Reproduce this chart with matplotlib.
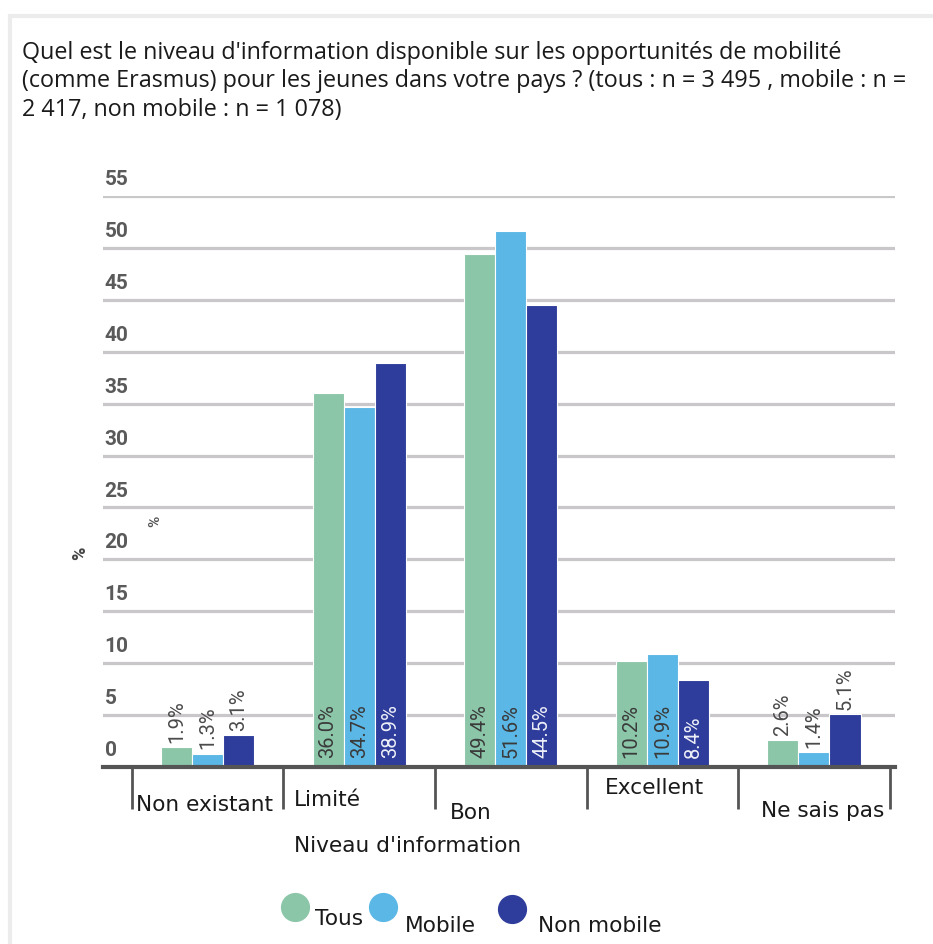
import matplotlib
matplotlib.use('Agg')
from matplotlib import pyplot as plt
from matplotlib.lines import Line2D
from matplotlib.patches import Rectangle
import matplotlib.transforms as mtransforms
import numpy as np

title = ("Quel est le niveau d'information disponible sur les opportunités de mobilité\n"
         "(comme Erasmus) pour les jeunes dans votre pays ? (tous : n = 3 495 , mobile : n =\n"
         "2 417, non mobile : n = 1 078)")
categories = ['Non existant', 'Limité', 'Bon', 'Excellent', 'Ne sais pas']
series = ['Tous', 'Mobile', 'Non mobile']
tous = [1.9, 36.0, 49.4, 10.2, 2.6]
mobile = [1.3, 34.7, 51.6, 10.9, 1.4]
non_mobile = [3.1, 38.9, 44.5, 8.4, 5.1]
yticks = [0, 5, 10, 15, 20, 25, 30, 35, 40, 45, 50, 55]
xlabel = "Niveau d'information"
ylabel = '%'

colors = ['#8cc6a9', '#5bb7e5', '#2e3c9b']
text_colors = ['#3a3a3a', '#3a3a3a', '#eef0f8']
grey = '#555555'
lab_font = ['DejaVu Sans']
lab_size = 15.6

fig = plt.figure(figsize=(9.33, 9.44), dpi=100)

# light frame around the chart
fig.patches.append(Rectangle((10 / 933, -0.1), 1.2, 1 - 16 / 944 + 0.1,
                             transform=fig.transFigure, fill=False,
                             edgecolor='#ececec', linewidth=3))

fig.text(22 / 933, 1 - 41 / 944, title, ha='left', va='top',
         fontsize=16.8, family=['Open Sans', 'DejaVu Sans'], color='#1a1a1a',
         linespacing=1.24)

ax = fig.add_axes([103 / 933, 1 - 767 / 944, 792 / 933, 571 / 944])

x = np.arange(len(categories))
w = 0.205
all_vals = [tous, mobile, non_mobile]
for i, vals in enumerate(all_vals):
    xs = x + (i - 1) * w
    bars = ax.bar(xs, vals, w, color=colors[i], edgecolor='white',
                  linewidth=0.8, zorder=3)
    for b, v in zip(bars, vals):
        cx = b.get_x() + b.get_width() / 2
        if v > 8:
            ax.text(cx, 0.9, f'{v:.1f}%', rotation=90, ha='center', va='bottom',
                    fontsize=14.5, family=['Roboto', 'DejaVu Sans'],
                    color=text_colors[i], zorder=4)
        else:
            ax.annotate(f'{v:.1f}%', (cx, v), xytext=(0, 3),
                        textcoords='offset points', rotation=90,
                        ha='center', va='bottom', fontsize=14.5,
                        family=['Roboto', 'DejaVu Sans'], color='#4a4a4a', zorder=4)

ax.set_xlim(-0.69, 4.535)
ax.set_ylim(0, 55)

# grid lines and y labels above them
for t in yticks[1:]:
    ax.axhline(t, color='#c9c7c9', linewidth=2.3, zorder=1)
trans = mtransforms.blended_transform_factory(ax.transAxes, ax.transData)
for t in yticks:
    ax.annotate(str(t), (0.002, t), xycoords=trans, xytext=(0, 5),
                textcoords='offset points', ha='left', va='bottom',
                fontsize=15, fontweight='bold', family=['Roboto', 'DejaVu Sans'],
                color='#5a5a5a')

for s in ['top', 'right', 'left']:
    ax.spines[s].set_visible(False)
ax.spines['bottom'].set_color(grey)
ax.spines['bottom'].set_linewidth(3)
ax.spines['bottom'].set_zorder(5)

bounds = np.arange(len(categories) + 1) - 0.5
ax.set_xticks(bounds)
ax.set_xticklabels([])
ax.tick_params(axis='x', length=30, width=2, color=grey, direction='out')
ax.set_yticks([])

# category labels, placed as in the original
label_dy = [38, 33, 46, 21, 44]
label_dx = [0.03, 0.07, 0.1, 0.12, 0.15]
xtrans = mtransforms.blended_transform_factory(ax.transData, ax.transAxes)
for i, c in enumerate(categories):
    ax.annotate(c, (bounds[i] + label_dx[i], 0), xycoords=xtrans,
                xytext=(0, -label_dy[i] * 0.72), textcoords='offset points',
                ha='left', va='center', fontsize=lab_size,
                family=lab_font, color='#1a1a1a')

fig.text(408 / 933, 1 - 846 / 944, xlabel, ha='center', va='center',
         fontsize=lab_size, family=lab_font, color='#1a1a1a')
fig.text(80 / 933, 1 - 553 / 944, ylabel, ha='center', va='center', rotation=90,
         fontsize=13, fontweight='bold', family=['Roboto', 'DejaVu Sans'], color='#444444')
# stray label left in the original picture
fig.text(155 / 933, 1 - 521 / 944, ylabel, ha='center', va='center', rotation=90,
         fontsize=11, fontweight='bold', family=['Roboto', 'DejaVu Sans'], color='#555555')

# legend, staggered like the original
leg_circle_x = [295, 383, 512]
leg_circle_y = [907, 907, 909]
leg_text_x = [315, 405, 538]
leg_text_y = [919, 926, 926]
for i, s in enumerate(series):
    fig.add_artist(Line2D([leg_circle_x[i] / 933], [1 - leg_circle_y[i] / 944],
                          marker='o', markersize=20, linestyle='none',
                          markerfacecolor=colors[i], markeredgecolor=colors[i],
                          transform=fig.transFigure))
    fig.text(leg_text_x[i] / 933, 1 - leg_text_y[i] / 944, s, ha='left',
             va='center', fontsize=lab_size, family=lab_font, color='#1a1a1a')

fig.savefig('out.png', dpi=100, facecolor='white')
